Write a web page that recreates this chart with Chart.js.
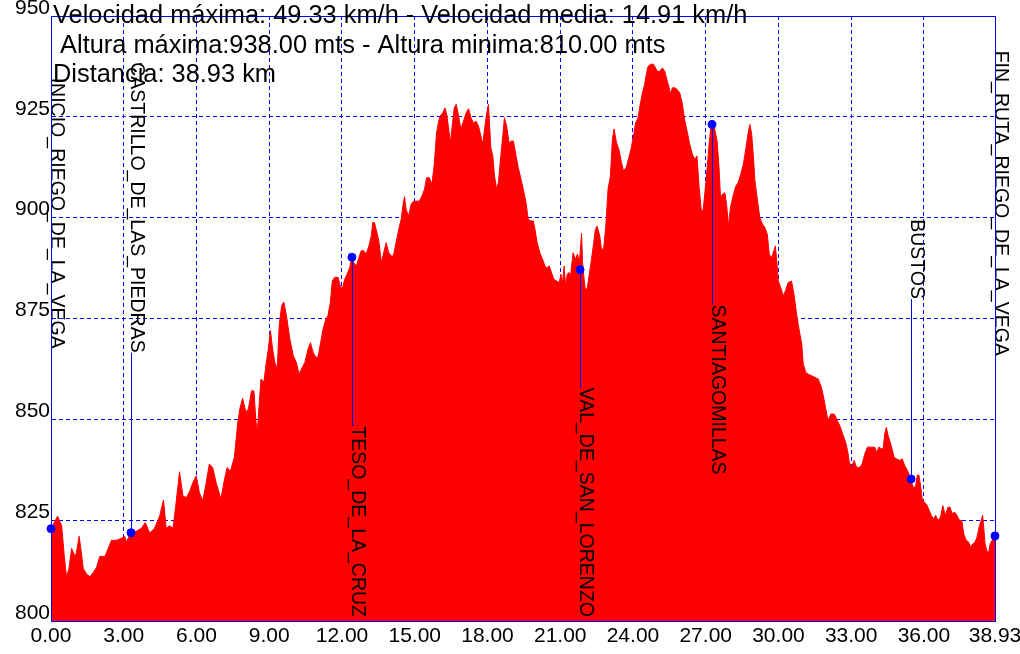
<!DOCTYPE html>
<html>
<head>
<meta charset="utf-8">
<script src="https://cdn.jsdelivr.net/npm/chart.js@4/dist/chart.umd.min.js"></script>
<style>
  html, body { margin: 0; padding: 0; background: #fff; overflow: hidden; }
  canvas { display: block; }
</style>
</head>
<body>
<canvas id="perfil" width="1040" height="654" style="width:1040px;height:654px"></canvas>
<script>
// perfil de la ruta: distancia (km) y altitud (m)
const distanciaKm = [
  0.00, 0.10, 0.27, 0.44, 0.55, 0.64, 0.74, 0.85, 0.99, 1.05, 1.16, 1.23, 1.33, 1.47, 1.60, 1.74, 1.88, 2.01, 2.22, 2.36,
  2.49, 2.70, 2.90, 3.04, 3.11, 3.25, 3.45, 3.73, 3.89, 4.07, 4.27, 4.48, 4.64, 4.75, 4.89, 5.03, 5.16, 5.30, 5.44, 5.58,
  5.71, 5.85, 5.99, 6.12, 6.26, 6.40, 6.53, 6.67, 6.81, 7.01, 7.15, 7.26, 7.40, 7.56, 7.70, 7.79, 7.90, 8.04, 8.14, 8.27,
  8.37, 8.45, 8.51, 8.59, 8.66, 8.78, 8.86, 8.96, 9.05, 9.14, 9.23, 9.33, 9.41, 9.51, 9.60, 9.71, 9.85, 9.99, 10.12, 10.23,
  10.33, 10.47, 10.60, 10.70, 10.81, 10.92, 11.01, 11.11, 11.22, 11.33, 11.42, 11.52, 11.60, 11.70, 11.84, 11.93, 12.01, 12.11, 12.21, 12.32,
  12.41, 12.48, 12.59, 12.70, 12.79, 12.89, 13.00, 13.11, 13.21, 13.27, 13.34, 13.44, 13.52, 13.62, 13.71, 13.82, 13.93, 14.03, 14.12, 14.23,
  14.34, 14.44, 14.53, 14.58, 14.64, 14.75, 14.85, 14.95, 15.05, 15.19, 15.30, 15.40, 15.49, 15.60, 15.71, 15.81, 15.90, 15.99, 16.05, 16.16,
  16.25, 16.33, 16.40, 16.47, 16.53, 16.63, 16.71, 16.81, 16.90, 17.01, 17.12, 17.22, 17.32, 17.42, 17.53, 17.63, 17.73, 17.81, 17.86, 17.95,
  18.04, 18.14, 18.22, 18.29, 18.38, 18.45, 18.55, 18.63, 18.70, 18.79, 18.89, 19.00, 19.07, 19.18, 19.27, 19.37, 19.48, 19.59, 19.68, 19.78,
  19.89, 19.96, 20.05, 20.16, 20.27, 20.37, 20.44, 20.55, 20.64, 20.74, 20.85, 20.96, 21.03, 21.10, 21.16, 21.22, 21.29, 21.37, 21.42, 21.53,
  21.63, 21.71, 21.79, 21.88, 21.92, 21.97, 22.03, 22.11, 22.19, 22.29, 22.38, 22.45, 22.52, 22.63, 22.70, 22.79, 22.88, 22.97, 23.07, 23.15,
  23.22, 23.32, 23.42, 23.52, 23.61, 23.72, 23.83, 23.93, 24.03, 24.11, 24.21, 24.30, 24.39, 24.48, 24.55, 24.62, 24.72, 24.83, 24.90, 25.00,
  25.10, 25.21, 25.31, 25.40, 25.49, 25.54, 25.63, 25.72, 25.82, 25.93, 26.04, 26.13, 26.23, 26.34, 26.45, 26.55, 26.64, 26.73, 26.82, 26.89,
  26.96, 27.06, 27.14, 27.21, 27.28, 27.37, 27.47, 27.55, 27.61, 27.69, 27.79, 27.86, 27.94, 28.02, 28.13, 28.24, 28.34, 28.44, 28.55, 28.66,
  28.75, 28.82, 28.89, 28.96, 29.03, 29.12, 29.23, 29.34, 29.44, 29.54, 29.62, 29.72, 29.81, 29.87, 29.92, 29.99, 30.09, 30.20, 30.29, 30.40,
  30.54, 30.64, 30.75, 30.86, 30.96, 31.02, 31.13, 31.23, 31.37, 31.51, 31.64, 31.75, 31.85, 31.95, 32.03, 32.08, 32.16, 32.30, 32.40, 32.53,
  32.67, 32.77, 32.85, 32.92, 33.01, 33.12, 33.22, 33.36, 33.45, 33.56, 33.67, 33.81, 33.97, 34.04, 34.14, 34.25, 34.32, 34.38, 34.45, 34.52,
  34.59, 34.68, 34.77, 34.86, 35.00, 35.10, 35.21, 35.32, 35.41, 35.51, 35.58, 35.66, 35.73, 35.79, 35.86, 35.93, 36.00, 36.10, 36.19, 36.30,
  36.40, 36.48, 36.58, 36.68, 36.78, 36.88, 36.99, 37.08, 37.16, 37.26, 37.36, 37.47, 37.56, 37.64, 37.74, 37.84, 37.92, 38.01, 38.11, 38.19,
  38.29, 38.36, 38.42, 38.47, 38.52, 38.59, 38.66, 38.73, 38.81, 38.88, 38.93
];
const altitudM = [
  823.0, 824.0, 826.0, 823.6, 816.0, 810.8, 813.0, 818.0, 816.0, 817.0, 821.0, 818.0, 813.0, 811.6, 811.0, 812.0, 813.3, 816.0, 816.0, 818.0,
  820.0, 820.0, 820.5, 821.0, 819.5, 821.5, 822.0, 823.0, 824.4, 821.8, 823.0, 826.0, 830.0, 823.0, 823.6, 823.0, 829.4, 837.0, 831.0, 830.6,
  832.0, 834.3, 836.0, 831.8, 829.8, 834.3, 838.9, 838.0, 834.3, 830.2, 835.0, 838.0, 837.2, 840.5, 849.0, 852.7, 855.2, 851.7, 852.6, 857.1,
  857.0, 849.7, 846.8, 854.2, 860.0, 859.2, 863.3, 867.4, 872.0, 867.4, 864.1, 862.5, 873.2, 878.1, 879.1, 875.7, 869.9, 865.8, 864.1, 861.2,
  862.5, 864.1, 867.4, 869.0, 866.6, 865.4, 865.4, 868.7, 872.4, 874.8, 875.7, 879.0, 884.3, 885.2, 885.2, 883.1, 882.3, 884.7, 886.0, 887.6,
  890.5, 888.9, 888.0, 890.1, 891.8, 891.8, 891.0, 893.0, 895.5, 898.8, 898.8, 896.3, 894.2, 888.9, 891.0, 893.8, 891.3, 890.5, 890.5, 893.8,
  897.1, 899.6, 903.7, 905.2, 902.1, 900.4, 903.3, 904.1, 904.1, 904.1, 905.4, 907.0, 909.9, 909.9, 908.3, 913.5, 921.0, 924.0, 925.2, 926.0,
  927.2, 925.2, 921.9, 918.6, 921.9, 927.2, 928.1, 925.2, 921.9, 923.9, 926.0, 927.0, 924.8, 923.5, 923.9, 922.7, 920.2, 918.2, 921.0, 925.2,
  928.1, 917.3, 915.3, 910.3, 907.0, 908.7, 915.3, 920.2, 924.8, 922.7, 918.6, 919.0, 919.0, 915.3, 912.4, 909.9, 907.0, 903.7, 899.6, 899.2,
  899.2, 897.1, 893.8, 891.3, 889.7, 888.0, 887.6, 888.0, 886.4, 884.7, 884.3, 883.9, 886.0, 883.9, 888.0, 883.0, 886.0, 886.4, 885.2, 891.3,
  889.7, 891.0, 888.9, 896.1, 888.9, 885.6, 882.3, 882.3, 885.6, 889.7, 893.8, 897.1, 897.9, 895.5, 892.2, 892.2, 897.9, 907.0, 910.3, 919.4,
  922.0, 918.6, 916.9, 913.8, 911.6, 912.4, 914.9, 917.3, 920.6, 923.5, 924.8, 928.1, 930.9, 933.0, 935.5, 937.5, 938.0, 938.1, 937.5, 936.3,
  936.3, 937.1, 936.3, 934.2, 932.2, 930.7, 932.2, 932.2, 931.8, 930.9, 928.1, 924.3, 921.5, 918.2, 915.7, 914.4, 915.3, 907.4, 901.7, 901.7,
  905.8, 912.4, 918.2, 922.3, 923.5, 921.9, 919.0, 912.4, 905.0, 905.8, 906.2, 903.3, 897.9, 902.5, 905.4, 907.8, 908.7, 910.7, 913.2, 917.3,
  921.0, 923.1, 921.0, 915.7, 909.1, 905.0, 900.0, 898.4, 897.5, 895.9, 890.9, 890.1, 891.8, 893.0, 890.1, 884.3, 882.7, 880.6, 881.9, 883.9,
  884.3, 881.0, 876.0, 871.9, 868.7, 863.7, 861.6, 861.2, 860.8, 860.4, 860.0, 858.3, 855.9, 852.6, 850.1, 850.1, 851.3, 851.3, 850.1, 848.4,
  846.0, 844.3, 842.2, 839.4, 838.1, 839.8, 838.1, 838.1, 838.9, 841.4, 843.1, 843.1, 843.1, 841.8, 843.1, 842.7, 842.7, 846.4, 848.0, 846.0,
  844.7, 842.7, 840.6, 840.2, 839.8, 840.2, 838.5, 837.3, 836.1, 834.0, 832.8, 833.6, 836.2, 836.2, 833.6, 830.3, 829.5, 829.0, 827.8, 826.2,
  825.3, 826.2, 824.9, 825.7, 828.6, 826.2, 828.2, 828.2, 826.6, 827.0, 826.2, 824.9, 824.9, 821.6, 820.0, 819.6, 818.3, 819.1, 819.6, 820.8,
  823.7, 824.9, 826.2, 822.9, 819.1, 817.5, 816.7, 819.1, 820.0, 820.8, 821.2
];

// puntos de paso
const puntosNombre = ['INICIO_RIEGO_DE_LA_VEGA', 'CASTRILLO_DE_LAS_PIEDRAS', 'TESO_DE_LA_CRUZ', 'VAL_DE_SAN_LORENZO',
  'SANTIAGOMILLAS', 'BUSTOS', 'FIN_RUTA_RIEGO_DE_LA_VEGA'];
const puntosKm = [0.00, 3.30, 12.41, 21.82, 27.26, 35.47, 38.93];
const puntosAlt = [822.9, 821.9, 890.2, 887.1, 923.1, 835.2, 821.1];

// ejes y textos
const ticksX = [0, 3, 6, 9, 12, 15, 18, 21, 24, 27, 30, 33, 36, 38.93];
const ticksY = [800, 825, 850, 875, 900, 925, 950];
const resumen = [
  'Velocidad máxima: 49.33 km/h - Velocidad media: 14.91 km/h',
  ' Altura máxima:938.00 mts - Altura minima:810.00 mts',
  'Distancia: 38.93 km'
];

const AZUL = '#0000ff';
const FUENTE = '"Liberation Sans", Arial, sans-serif';

const marcasPlugin = {
  id: 'marcas',
  afterDraw(chart) {
    const {ctx, chartArea: a, scales: {x, y}} = chart;
    const hueco = 180;
    ctx.save();
    ctx.font = '19.5px ' + FUENTE;
    ctx.textBaseline = 'alphabetic';
    puntosNombre.forEach((nombre, i) => {
      const px = Math.round(x.getPixelForValue(puntosKm[i])) + 0.5;
      const py = y.getPixelForValue(puntosAlt[i]);
      const largo = ctx.measureText(nombre).width;
      let t0, finLinea;
      if (py > (a.top + a.bottom) / 2) {
        finLinea = py - hueco;
        t0 = finLinea - largo;
      } else {
        t0 = Math.min(py + hueco, a.bottom - 4 - largo);
        finLinea = t0;
      }
      ctx.strokeStyle = AZUL;
      ctx.lineWidth = 1;
      ctx.beginPath();
      ctx.moveTo(px, py);
      ctx.lineTo(px, finLinea);
      ctx.stroke();

      ctx.save();
      ctx.translate(px - 1, t0);
      ctx.rotate(Math.PI / 2);
      ctx.fillStyle = '#000';
      ctx.fillText(nombre, 0, 0);
      ctx.restore();
    });

    // marco del grafico
    ctx.strokeStyle = AZUL;
    ctx.lineWidth = 1;
    ctx.strokeRect(Math.round(a.left) + 0.5, Math.round(a.top) + 0.5,
      Math.round(a.right - a.left), Math.round(a.bottom - a.top));

    // textos de resumen
    ctx.font = '25.4px ' + FUENTE;
    ctx.fillStyle = '#000';
    resumen.forEach((t, i) => ctx.fillText(t, 53, 23 + i * 29.5));
    ctx.restore();
  }
};

new Chart(document.getElementById('perfil'), {
  type: 'line',
  data: {
    datasets: [
      {
        type: 'scatter',
        data: puntosKm.map((k, i) => ({x: k, y: puntosAlt[i]})),
        pointRadius: 4,
        pointBackgroundColor: AZUL,
        pointBorderColor: AZUL,
        clip: false,
        order: 0
      },
      {
        data: distanciaKm.map((k, i) => ({x: k, y: altitudM[i]})),
        fill: 'start',
        backgroundColor: '#ff0000',
        borderColor: '#ff0000',
        borderWidth: 1,
        pointRadius: 0,
        tension: 0,
        order: 1
      }
    ]
  },
  options: {
    responsive: false,
    animation: false,
    devicePixelRatio: 1,
    layout: {padding: {top: 16, right: 45, left: 0, bottom: 0}},
    plugins: {legend: {display: false}, tooltip: {enabled: false}},
    scales: {
      x: {
        type: 'linear',
        min: 0,
        max: 38.93,
        z: 1,
        afterBuildTicks: s => { s.ticks = ticksX.map(v => ({value: v})); },
        afterFit: s => { s.height = 33; },
        grid: {color: AZUL, lineWidth: 1, drawTicks: false},
        border: {display: true, color: AZUL, dash: [4, 3]},
        ticks: {
          autoSkip: false,
          maxRotation: 0,
          padding: 3,
          color: '#000',
          font: {family: FUENTE, size: 21},
          callback: v => Number(v).toFixed(2)
        }
      },
      y: {
        min: 800,
        max: 950,
        z: 1,
        afterBuildTicks: s => { s.ticks = ticksY.map(v => ({value: v})); },
        afterFit: s => { s.width = 51; },
        grid: {color: AZUL, lineWidth: 1, drawTicks: false},
        border: {display: true, color: AZUL, dash: [4, 3]},
        ticks: {
          padding: 1,
          labelOffset: -8,
          color: '#000',
          font: {family: FUENTE, size: 21},
          callback: v => String(v)
        }
      }
    }
  },
  plugins: [marcasPlugin]
});
</script>
</body>
</html>
